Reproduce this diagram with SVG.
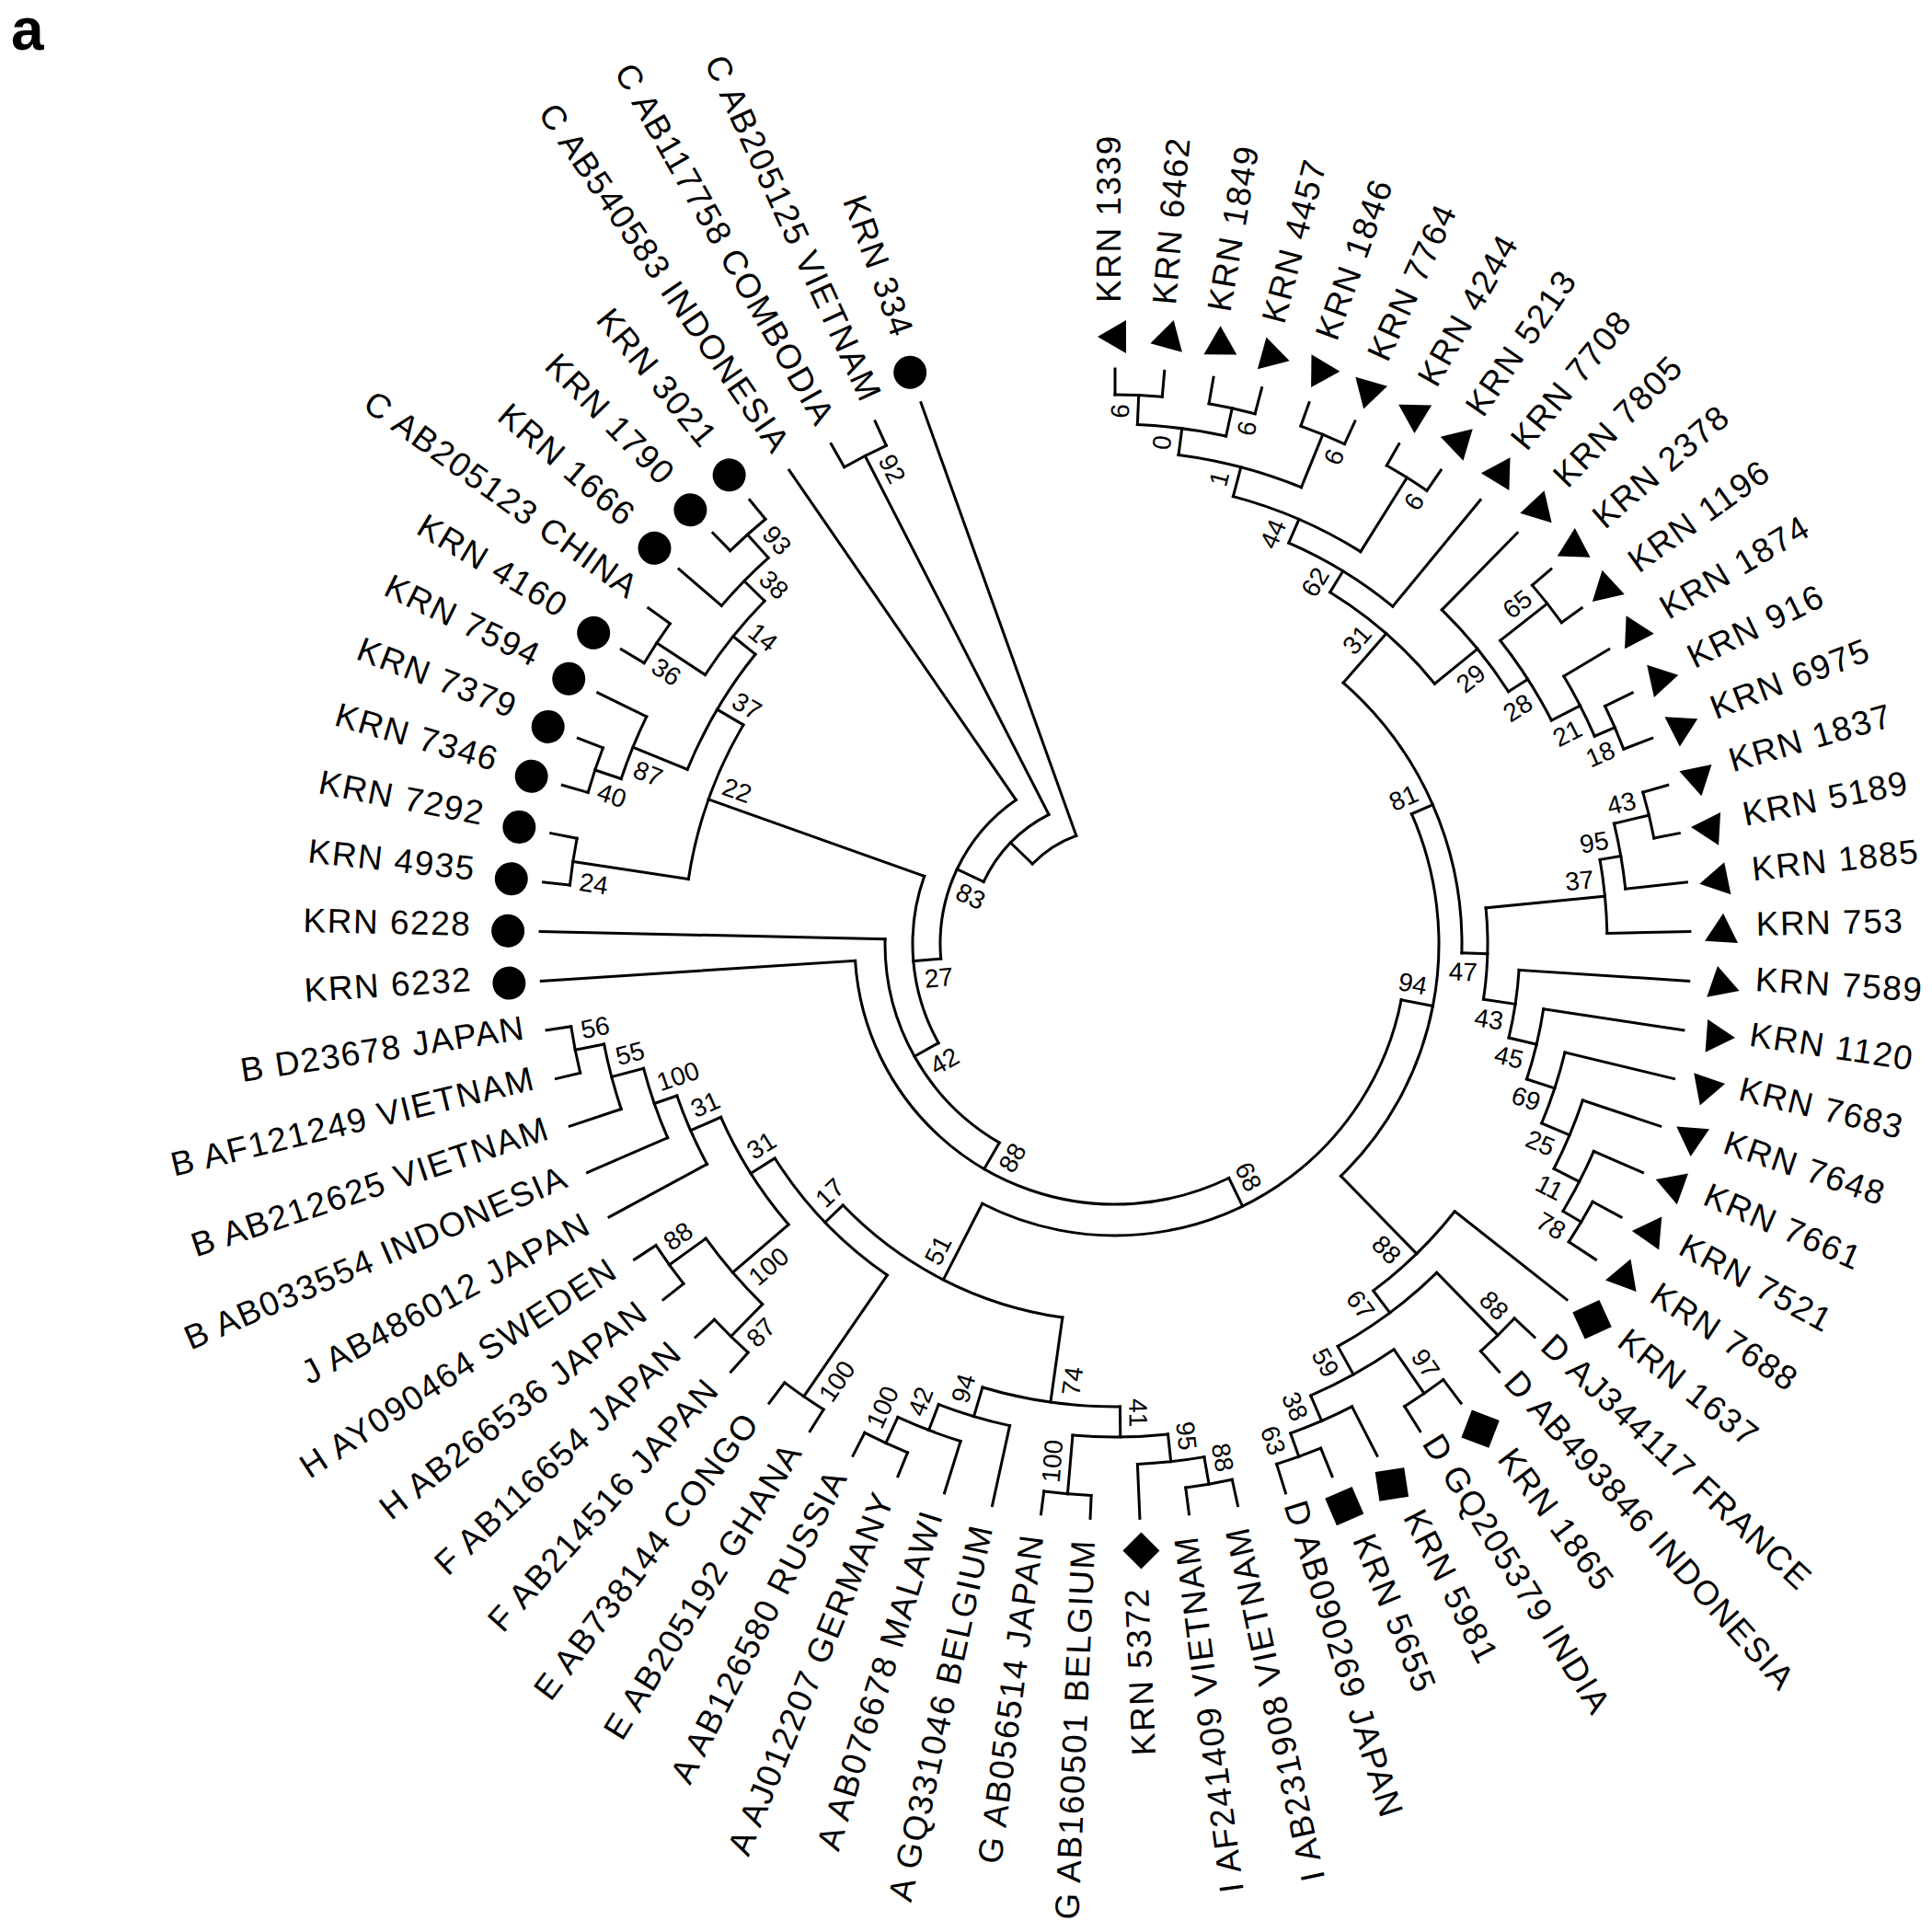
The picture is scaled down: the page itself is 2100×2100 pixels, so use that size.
<svg xmlns="http://www.w3.org/2000/svg" xmlns:xlink="http://www.w3.org/1999/xlink" width="2100" height="2100" viewBox="0 0 2100 2100">
<style>
.ln{fill:none;stroke:#000;stroke-width:3;stroke-linecap:square}
.lf{font-family:"Liberation Sans",Arial,sans-serif;font-size:37px;letter-spacing:1.5px;fill:#000}
.lt{text-anchor:end}
.bs{font-family:"Liberation Sans",Arial,sans-serif;font-size:28px;fill:#000;text-anchor:middle}
</style>
<defs>
<path id="tri" d="M0,-19 L18,12 L-18,12 Z"/>
<rect id="sq" x="-16" y="-16" width="32" height="32"/>
<circle id="dot" r="18"/>
<path id="dia" d="M0,-20 L20,0 L0,20 L-20,0 Z"/>
</defs>
<rect width="2100" height="2100" fill="#fff"/>
<text x="12" y="54" font-family="Liberation Sans,Arial,sans-serif" font-weight="bold" font-size="64">a</text>
<g transform="translate(1212,1026)">
<g id="connectors" class="ln">
<circle r="597" pathLength="360" stroke-dasharray="4.93 720" transform="rotate(-90)"/>
<circle r="596" pathLength="360" stroke-dasharray="4.93 720" transform="rotate(-80.14)"/>
<circle r="565" pathLength="360" stroke-dasharray="9.86 720" transform="rotate(-87.53)"/>
<circle r="598" pathLength="360" stroke-dasharray="4.93 720" transform="rotate(-70.27)"/>
<circle r="536" pathLength="360" stroke-dasharray="14.79 720" transform="rotate(-82.60)"/>
<circle r="598" pathLength="360" stroke-dasharray="4.93 720" transform="rotate(-60.41)"/>
<circle r="503" pathLength="360" stroke-dasharray="17.26 720" transform="rotate(-75.21)"/>
<circle r="475" pathLength="360" stroke-dasharray="16.03 720" transform="rotate(-66.58)"/>
<circle r="598" pathLength="360" stroke-dasharray="4.94 720" transform="rotate(-40.69)"/>
<circle r="592" pathLength="360" stroke-dasharray="4.93 720" transform="rotate(-25.89)"/>
<circle r="568" pathLength="360" stroke-dasharray="7.40 720" transform="rotate(-30.82)"/>
<circle r="533" pathLength="360" stroke-dasharray="11.10 720" transform="rotate(-38.22)"/>
<circle r="508" pathLength="360" stroke-dasharray="12.95 720" transform="rotate(-45.62)"/>
<circle r="448" pathLength="360" stroke-dasharray="19.42 720" transform="rotate(-58.56)"/>
<circle r="597" pathLength="360" stroke-dasharray="4.93 720" transform="rotate(-16.03)"/>
<circle r="558" pathLength="360" stroke-dasharray="7.40 720" transform="rotate(-13.56)"/>
<circle r="535" pathLength="360" stroke-dasharray="8.63 720" transform="rotate(-9.86)"/>
<circle r="590" pathLength="360" stroke-dasharray="4.93 720" transform="rotate(28.36)"/>
<circle r="567" pathLength="360" stroke-dasharray="7.40 720" transform="rotate(23.42)"/>
<circle r="536" pathLength="360" stroke-dasharray="8.63 720" transform="rotate(18.49)"/>
<circle r="503" pathLength="360" stroke-dasharray="9.25 720" transform="rotate(13.56)"/>
<circle r="471" pathLength="360" stroke-dasharray="9.55 720" transform="rotate(8.63)"/>
<circle r="440" pathLength="360" stroke-dasharray="9.71 720" transform="rotate(3.70)"/>
<circle r="405" pathLength="360" stroke-dasharray="14.10 720" transform="rotate(-5.55)"/>
<circle r="377" pathLength="360" stroke-dasharray="50.35 720" transform="rotate(-48.85)"/>
<circle r="595" pathLength="360" stroke-dasharray="4.93 720" transform="rotate(43.15)"/>
<circle r="593" pathLength="360" stroke-dasharray="4.94 720" transform="rotate(53.01)"/>
<circle r="592" pathLength="360" stroke-dasharray="4.93 720" transform="rotate(67.81)"/>
<circle r="565" pathLength="360" stroke-dasharray="7.39 720" transform="rotate(62.88)"/>
<circle r="535" pathLength="360" stroke-dasharray="11.10 720" transform="rotate(55.48)"/>
<circle r="500" pathLength="360" stroke-dasharray="15.41 720" transform="rotate(45.62)"/>
<circle r="470" pathLength="360" stroke-dasharray="15.10 720" transform="rotate(38.22)"/>
<circle r="352" pathLength="360" stroke-dasharray="69.44 720" transform="rotate(-23.67)"/>
<circle r="596" pathLength="360" stroke-dasharray="4.93 720" transform="rotate(77.67)"/>
<circle r="566" pathLength="360" stroke-dasharray="7.39 720" transform="rotate(80.14)"/>
<circle r="600" pathLength="360" stroke-dasharray="4.93 720" transform="rotate(92.47)"/>
<circle r="536" pathLength="360" stroke-dasharray="11.09 720" transform="rotate(83.84)"/>
<circle r="597" pathLength="360" stroke-dasharray="4.93 720" transform="rotate(112.19)"/>
<circle r="566" pathLength="360" stroke-dasharray="7.40 720" transform="rotate(107.26)"/>
<circle r="536" pathLength="360" stroke-dasharray="8.63 720" transform="rotate(102.33)"/>
<circle r="503" pathLength="360" stroke-dasharray="17.26 720" transform="rotate(89.38)"/>
<circle r="597" pathLength="360" stroke-dasharray="4.94 720" transform="rotate(122.05)"/>
<circle r="597" pathLength="360" stroke-dasharray="4.93 720" transform="rotate(131.92)"/>
<circle r="597" pathLength="360" stroke-dasharray="4.93 720" transform="rotate(141.78)"/>
<circle r="548" pathLength="360" stroke-dasharray="9.87 720" transform="rotate(134.38)"/>
<circle r="598" pathLength="360" stroke-dasharray="4.93 720" transform="rotate(166.44)"/>
<circle r="566" pathLength="360" stroke-dasharray="7.39 720" transform="rotate(161.51)"/>
<circle r="530" pathLength="360" stroke-dasharray="8.63 720" transform="rotate(156.58)"/>
<circle r="504" pathLength="360" stroke-dasharray="9.25 720" transform="rotate(151.64)"/>
<circle r="468" pathLength="360" stroke-dasharray="16.95 720" transform="rotate(139.32)"/>
<circle r="437" pathLength="360" stroke-dasharray="23.27 720" transform="rotate(124.52)"/>
<circle r="410" pathLength="360" stroke-dasharray="38.15 720" transform="rotate(98.01)"/>
<circle r="317" pathLength="360" stroke-dasharray="106.03 720" transform="rotate(11.05)"/>
<circle r="283" pathLength="360" stroke-dasharray="112.23 720" transform="rotate(64.07)"/>
<circle r="250" pathLength="360" stroke-dasharray="61.05 720" transform="rotate(120.18)"/>
<circle r="596" pathLength="360" stroke-dasharray="4.94 720" transform="rotate(186.16)"/>
<circle r="596" pathLength="360" stroke-dasharray="4.93 720" transform="rotate(196.03)"/>
<circle r="566" pathLength="360" stroke-dasharray="7.40 720" transform="rotate(198.49)"/>
<circle r="596" pathLength="360" stroke-dasharray="4.93 720" transform="rotate(210.82)"/>
<circle r="598" pathLength="360" stroke-dasharray="4.93 720" transform="rotate(225.62)"/>
<circle r="564" pathLength="360" stroke-dasharray="7.40 720" transform="rotate(220.68)"/>
<circle r="533" pathLength="360" stroke-dasharray="11.09 720" transform="rotate(213.29)"/>
<circle r="502" pathLength="360" stroke-dasharray="16.65 720" transform="rotate(202.19)"/>
<circle r="469" pathLength="360" stroke-dasharray="21.88 720" transform="rotate(188.63)"/>
<circle r="220" pathLength="360" stroke-dasharray="48.86 720" transform="rotate(150.71)"/>
<circle r="190" pathLength="360" stroke-dasharray="60.34 720" transform="rotate(175.14)"/>
<circle r="596" pathLength="360" stroke-dasharray="4.93 720" transform="rotate(240.41)"/>
<circle r="158" pathLength="360" stroke-dasharray="37.57 720" transform="rotate(205.31)"/>
<circle r="125" pathLength="360" stroke-dasharray="26.18 720" transform="rotate(224.09)"/>
<path d="M565 0H597" transform="rotate(-87.53)"/>
<path d="M565 0H596" transform="rotate(-77.67)"/>
<path d="M536 0H565" transform="rotate(-82.60)"/>
<path d="M536 0H598" transform="rotate(-67.81)"/>
<path d="M503 0H536" transform="rotate(-75.21)"/>
<path d="M503 0H598" transform="rotate(-57.95)"/>
<path d="M475 0H503" transform="rotate(-66.58)"/>
<path d="M448 0H475" transform="rotate(-58.56)"/>
<path d="M533 0H598" transform="rotate(-38.22)"/>
<path d="M568 0H592" transform="rotate(-23.42)"/>
<path d="M533 0H568" transform="rotate(-27.12)"/>
<path d="M508 0H533" transform="rotate(-32.67)"/>
<path d="M448 0H508" transform="rotate(-39.14)"/>
<path d="M377 0H448" transform="rotate(-48.85)"/>
<path d="M558 0H597" transform="rotate(-13.56)"/>
<path d="M535 0H558" transform="rotate(-9.86)"/>
<path d="M405 0H535" transform="rotate(-5.55)"/>
<path d="M567 0H590" transform="rotate(30.82)"/>
<path d="M536 0H567" transform="rotate(27.12)"/>
<path d="M503 0H536" transform="rotate(22.81)"/>
<path d="M471 0H503" transform="rotate(18.18)"/>
<path d="M440 0H471" transform="rotate(13.41)"/>
<path d="M405 0H440" transform="rotate(8.55)"/>
<path d="M377 0H405" transform="rotate(1.50)"/>
<path d="M352 0H377" transform="rotate(-23.67)"/>
<path d="M500 0H595" transform="rotate(45.62)"/>
<path d="M535 0H593" transform="rotate(55.48)"/>
<path d="M565 0H592" transform="rotate(70.27)"/>
<path d="M535 0H565" transform="rotate(66.58)"/>
<path d="M500 0H535" transform="rotate(61.03)"/>
<path d="M470 0H500" transform="rotate(53.32)"/>
<path d="M352 0H470" transform="rotate(45.77)"/>
<path d="M317 0H352" transform="rotate(11.05)"/>
<path d="M566 0H596" transform="rotate(80.14)"/>
<path d="M536 0H566" transform="rotate(83.84)"/>
<path d="M536 0H600" transform="rotate(94.93)"/>
<path d="M503 0H536" transform="rotate(89.38)"/>
<path d="M566 0H597" transform="rotate(114.66)"/>
<path d="M536 0H566" transform="rotate(110.96)"/>
<path d="M503 0H536" transform="rotate(106.64)"/>
<path d="M410 0H503" transform="rotate(98.01)"/>
<path d="M437 0H597" transform="rotate(124.52)"/>
<path d="M548 0H597" transform="rotate(134.38)"/>
<path d="M548 0H597" transform="rotate(144.25)"/>
<path d="M468 0H548" transform="rotate(139.32)"/>
<path d="M566 0H598" transform="rotate(168.90)"/>
<path d="M530 0H566" transform="rotate(165.21)"/>
<path d="M504 0H530" transform="rotate(160.89)"/>
<path d="M468 0H504" transform="rotate(156.27)"/>
<path d="M437 0H468" transform="rotate(147.79)"/>
<path d="M410 0H437" transform="rotate(136.16)"/>
<path d="M317 0H410" transform="rotate(117.08)"/>
<path d="M283 0H317" transform="rotate(64.07)"/>
<path d="M250 0H283" transform="rotate(120.18)"/>
<path d="M220 0H250" transform="rotate(150.71)"/>
<path d="M469 0H596" transform="rotate(188.63)"/>
<path d="M566 0H596" transform="rotate(198.49)"/>
<path d="M502 0H566" transform="rotate(202.19)"/>
<path d="M533 0H596" transform="rotate(213.29)"/>
<path d="M564 0H598" transform="rotate(228.08)"/>
<path d="M533 0H564" transform="rotate(224.38)"/>
<path d="M502 0H533" transform="rotate(218.84)"/>
<path d="M469 0H502" transform="rotate(210.51)"/>
<path d="M220 0H469" transform="rotate(199.57)"/>
<path d="M190 0H220" transform="rotate(175.14)"/>
<path d="M158 0H190" transform="rotate(205.31)"/>
<path d="M158 0H596" transform="rotate(242.88)"/>
<path d="M125 0H158" transform="rotate(224.09)"/>
<path d="M597 0H625" transform="rotate(-90)"/>
<path d="M597 0H625" transform="rotate(-85.07)"/>
<path d="M596 0H625" transform="rotate(-80.14)"/>
<path d="M596 0H625" transform="rotate(-75.21)"/>
<path d="M598 0H625" transform="rotate(-70.27)"/>
<path d="M598 0H625" transform="rotate(-65.34)"/>
<path d="M598 0H625" transform="rotate(-60.41)"/>
<path d="M598 0H625" transform="rotate(-55.48)"/>
<path d="M475 0H625" transform="rotate(-50.55)"/>
<path d="M508 0H625" transform="rotate(-45.62)"/>
<path d="M598 0H625" transform="rotate(-40.69)"/>
<path d="M598 0H625" transform="rotate(-35.75)"/>
<path d="M568 0H625" transform="rotate(-30.82)"/>
<path d="M592 0H625" transform="rotate(-25.89)"/>
<path d="M592 0H625" transform="rotate(-20.96)"/>
<path d="M597 0H625" transform="rotate(-16.03)"/>
<path d="M597 0H625" transform="rotate(-11.10)"/>
<path d="M558 0H625" transform="rotate(-6.16)"/>
<path d="M535 0H625" transform="rotate(-1.23)"/>
<path d="M440 0H625" transform="rotate(3.70)"/>
<path d="M471 0H625" transform="rotate(8.63)"/>
<path d="M503 0H625" transform="rotate(13.56)"/>
<path d="M536 0H625" transform="rotate(18.49)"/>
<path d="M567 0H625" transform="rotate(23.42)"/>
<path d="M590 0H625" transform="rotate(28.36)"/>
<path d="M590 0H625" transform="rotate(33.29)"/>
<path d="M470 0H625" transform="rotate(38.22)"/>
<path d="M595 0H625" transform="rotate(43.15)"/>
<path d="M595 0H625" transform="rotate(48.08)"/>
<path d="M593 0H625" transform="rotate(53.01)"/>
<path d="M593 0H625" transform="rotate(57.95)"/>
<path d="M565 0H625" transform="rotate(62.88)"/>
<path d="M592 0H625" transform="rotate(67.81)"/>
<path d="M592 0H625" transform="rotate(72.74)"/>
<path d="M596 0H625" transform="rotate(77.67)"/>
<path d="M596 0H625" transform="rotate(82.60)"/>
<path d="M566 0H625" transform="rotate(87.53)"/>
<path d="M600 0H625" transform="rotate(92.47)"/>
<path d="M600 0H625" transform="rotate(97.40)"/>
<path d="M536 0H625" transform="rotate(102.33)"/>
<path d="M566 0H625" transform="rotate(107.26)"/>
<path d="M597 0H625" transform="rotate(112.19)"/>
<path d="M597 0H625" transform="rotate(117.12)"/>
<path d="M597 0H625" transform="rotate(122.05)"/>
<path d="M597 0H625" transform="rotate(126.99)"/>
<path d="M597 0H625" transform="rotate(131.92)"/>
<path d="M597 0H625" transform="rotate(136.85)"/>
<path d="M597 0H625" transform="rotate(141.78)"/>
<path d="M597 0H625" transform="rotate(146.71)"/>
<path d="M504 0H625" transform="rotate(151.64)"/>
<path d="M530 0H625" transform="rotate(156.58)"/>
<path d="M566 0H625" transform="rotate(161.51)"/>
<path d="M598 0H625" transform="rotate(166.44)"/>
<path d="M598 0H625" transform="rotate(171.37)"/>
<path d="M283 0H625" transform="rotate(176.30)"/>
<path d="M250 0H625" transform="rotate(181.23)"/>
<path d="M596 0H625" transform="rotate(186.16)"/>
<path d="M596 0H625" transform="rotate(191.10)"/>
<path d="M596 0H625" transform="rotate(196.03)"/>
<path d="M596 0H625" transform="rotate(200.96)"/>
<path d="M566 0H625" transform="rotate(205.89)"/>
<path d="M596 0H625" transform="rotate(210.82)"/>
<path d="M596 0H625" transform="rotate(215.75)"/>
<path d="M564 0H625" transform="rotate(220.68)"/>
<path d="M598 0H625" transform="rotate(225.62)"/>
<path d="M598 0H625" transform="rotate(230.55)"/>
<path d="M190 0H625" transform="rotate(235.48)"/>
<path d="M596 0H625" transform="rotate(240.41)"/>
<path d="M596 0H625" transform="rotate(245.34)"/>
<path d="M125 0H625" transform="rotate(250.27)"/>
</g>
<g id="leaves">
<g id="leaf-00" transform="rotate(-90)"><use href="#tri" transform="translate(660 0) rotate(360)"/><text class="lf" x="697" y="6">KRN 1339</text></g>
<g id="leaf-01" transform="rotate(-85.07)"><use href="#tri" transform="translate(660 0) rotate(340.28)"/><text class="lf" x="697" y="6">KRN 6462</text></g>
<g id="leaf-02" transform="rotate(-80.14)"><use href="#tri" transform="translate(660 0) rotate(320.56)"/><text class="lf" x="697" y="6">KRN 1849</text></g>
<g id="leaf-03" transform="rotate(-75.21)"><use href="#tri" transform="translate(660 0) rotate(300.84)"/><text class="lf" x="697" y="6">KRN 4457</text></g>
<g id="leaf-04" transform="rotate(-70.27)"><use href="#tri" transform="translate(660 0) rotate(281.08)"/><text class="lf" x="697" y="6">KRN 1846</text></g>
<g id="leaf-05" transform="rotate(-65.34)"><use href="#tri" transform="translate(660 0) rotate(261.36)"/><text class="lf" x="697" y="6">KRN 7764</text></g>
<g id="leaf-06" transform="rotate(-60.41)"><use href="#tri" transform="translate(660 0) rotate(241.64)"/><text class="lf" x="697" y="6">KRN 4244</text></g>
<g id="leaf-07" transform="rotate(-55.48)"><use href="#tri" transform="translate(660 0) rotate(221.92)"/><text class="lf" x="697" y="6">KRN 5213</text></g>
<g id="leaf-08" transform="rotate(-50.55)"><use href="#tri" transform="translate(660 0) rotate(202.2)"/><text class="lf" x="697" y="6">KRN 7708</text></g>
<g id="leaf-09" transform="rotate(-45.62)"><use href="#tri" transform="translate(660 0) rotate(182.48)"/><text class="lf" x="697" y="6">KRN 7805</text></g>
<g id="leaf-10" transform="rotate(-40.69)"><use href="#tri" transform="translate(660 0) rotate(162.76)"/><text class="lf" x="697" y="6">KRN 2378</text></g>
<g id="leaf-11" transform="rotate(-35.75)"><use href="#tri" transform="translate(660 0) rotate(143)"/><text class="lf" x="697" y="6">KRN 1196</text></g>
<g id="leaf-12" transform="rotate(-30.82)"><use href="#tri" transform="translate(660 0) rotate(123.28)"/><text class="lf" x="697" y="6">KRN 1874</text></g>
<g id="leaf-13" transform="rotate(-25.89)"><use href="#tri" transform="translate(660 0) rotate(103.56)"/><text class="lf" x="697" y="6">KRN 916</text></g>
<g id="leaf-14" transform="rotate(-20.96)"><use href="#tri" transform="translate(660 0) rotate(83.84)"/><text class="lf" x="697" y="6">KRN 6975</text></g>
<g id="leaf-15" transform="rotate(-16.03)"><use href="#tri" transform="translate(660 0) rotate(64.12)"/><text class="lf" x="697" y="6">KRN 1837</text></g>
<g id="leaf-16" transform="rotate(-11.10)"><use href="#tri" transform="translate(660 0) rotate(44.4)"/><text class="lf" x="697" y="6">KRN 5189</text></g>
<g id="leaf-17" transform="rotate(-6.16)"><use href="#tri" transform="translate(660 0) rotate(24.64)"/><text class="lf" x="697" y="6">KRN 1885</text></g>
<g id="leaf-18" transform="rotate(-1.23)"><use href="#tri" transform="translate(660 0) rotate(4.92)"/><text class="lf" x="697" y="6">KRN 753</text></g>
<g id="leaf-19" transform="rotate(3.70)"><use href="#tri" transform="translate(660 0) rotate(-14.8)"/><text class="lf" x="697" y="6">KRN 7589</text></g>
<g id="leaf-20" transform="rotate(8.63)"><use href="#tri" transform="translate(660 0) rotate(-34.52)"/><text class="lf" x="697" y="6">KRN 1120</text></g>
<g id="leaf-21" transform="rotate(13.56)"><use href="#tri" transform="translate(660 0) rotate(-54.24)"/><text class="lf" x="697" y="6">KRN 7683</text></g>
<g id="leaf-22" transform="rotate(18.49)"><use href="#tri" transform="translate(660 0) rotate(-73.96)"/><text class="lf" x="697" y="6">KRN 7648</text></g>
<g id="leaf-23" transform="rotate(23.42)"><use href="#tri" transform="translate(660 0) rotate(-93.68)"/><text class="lf" x="697" y="6">KRN 7661</text></g>
<g id="leaf-24" transform="rotate(28.36)"><use href="#tri" transform="translate(660 0) rotate(-113.44)"/><text class="lf" x="697" y="6">KRN 7521</text></g>
<g id="leaf-25" transform="rotate(33.29)"><use href="#tri" transform="translate(660 0) rotate(-133.16)"/><text class="lf" x="697" y="6">KRN 7688</text></g>
<g id="leaf-26" transform="rotate(38.22)"><use href="#sq" transform="translate(660 0) rotate(-152.88)"/><text class="lf" x="697" y="6">KRN 1637</text></g>
<g id="leaf-27" transform="rotate(43.15)"><text class="lf" x="637" y="6">D AJ344117 FRANCE</text></g>
<g id="leaf-28" transform="rotate(48.08)"><text class="lf" x="637" y="6">D AB493846 INDONESIA</text></g>
<g id="leaf-29" transform="rotate(53.01)"><use href="#sq" transform="translate(660 0) rotate(-212.04)"/><text class="lf" x="697" y="6">KRN 1865</text></g>
<g id="leaf-30" transform="rotate(57.95)"><text class="lf" x="637" y="6">D GQ205379 INDIA</text></g>
<g id="leaf-31" transform="rotate(62.88)"><use href="#sq" transform="translate(660 0) rotate(-251.52)"/><text class="lf" x="697" y="6">KRN 5981</text></g>
<g id="leaf-32" transform="rotate(67.81)"><use href="#sq" transform="translate(660 0) rotate(-271.24)"/><text class="lf" x="697" y="6">KRN 5655</text></g>
<g id="leaf-33" transform="rotate(72.74)"><text class="lf" x="637" y="6">D AB090269 JAPAN</text></g>
<g id="leaf-34" transform="rotate(77.67)"><text class="lf lt" x="648" y="6" transform="rotate(180 648 0)">I AB231908 VIETNAM</text></g>
<g id="leaf-35" transform="rotate(82.60)"><text class="lf lt" x="648" y="6" transform="rotate(180 648 0)">I AF241409 VIETNAM</text></g>
<g id="leaf-36" transform="rotate(87.53)"><use href="#dia" transform="translate(660 0) rotate(-87.53)"/><text class="lf lt" x="700" y="6" transform="rotate(180 700 0)">KRN 5372</text></g>
<g id="leaf-37" transform="rotate(92.47)"><text class="lf lt" x="648" y="6" transform="rotate(180 648 0)">G AB160501 BELGIUM</text></g>
<g id="leaf-38" transform="rotate(97.40)"><text class="lf lt" x="648" y="6" transform="rotate(180 648 0)">G AB056514 JAPAN</text></g>
<g id="leaf-39" transform="rotate(102.33)"><text class="lf lt" x="648" y="6" transform="rotate(180 648 0)">A GQ331046 BELGIUM</text></g>
<g id="leaf-40" transform="rotate(107.26)"><text class="lf lt" x="648" y="6" transform="rotate(180 648 0)">A AB076678 MALAWI</text></g>
<g id="leaf-41" transform="rotate(112.19)"><text class="lf lt" x="648" y="6" transform="rotate(180 648 0)">A AJ012207 GERMANY</text></g>
<g id="leaf-42" transform="rotate(117.12)"><text class="lf lt" x="648" y="6" transform="rotate(180 648 0)">A AB126580 RUSSIA</text></g>
<g id="leaf-43" transform="rotate(122.05)"><text class="lf lt" x="648" y="6" transform="rotate(180 648 0)">E AB205192 GHANA</text></g>
<g id="leaf-44" transform="rotate(126.99)"><text class="lf lt" x="648" y="6" transform="rotate(180 648 0)">E AB738144 CONGO</text></g>
<g id="leaf-45" transform="rotate(131.92)"><text class="lf lt" x="648" y="6" transform="rotate(180 648 0)">F AB214516 JAPAN</text></g>
<g id="leaf-46" transform="rotate(136.85)"><text class="lf lt" x="648" y="6" transform="rotate(180 648 0)">F AB116654 JAPAN</text></g>
<g id="leaf-47" transform="rotate(141.78)"><text class="lf lt" x="648" y="6" transform="rotate(180 648 0)">H AB266536 JAPAN</text></g>
<g id="leaf-48" transform="rotate(146.71)"><text class="lf lt" x="648" y="6" transform="rotate(180 648 0)">H AY090464 SWEDEN</text></g>
<g id="leaf-49" transform="rotate(151.64)"><text class="lf lt" x="648" y="6" transform="rotate(180 648 0)">J AB486012 JAPAN</text></g>
<g id="leaf-50" transform="rotate(156.58)"><text class="lf lt" x="648" y="6" transform="rotate(180 648 0)">B AB033554 INDONESIA</text></g>
<g id="leaf-51" transform="rotate(161.51)"><text class="lf lt" x="648" y="6" transform="rotate(180 648 0)">B AB212625 VIETNAM</text></g>
<g id="leaf-52" transform="rotate(166.44)"><text class="lf lt" x="648" y="6" transform="rotate(180 648 0)">B AF121249 VIETNAM</text></g>
<g id="leaf-53" transform="rotate(171.37)"><text class="lf lt" x="648" y="6" transform="rotate(180 648 0)">B D23678 JAPAN</text></g>
<g id="leaf-54" transform="rotate(176.30)"><use href="#dot" x="660"/><text class="lf lt" x="700" y="6" transform="rotate(180 700 0)">KRN 6232</text></g>
<g id="leaf-55" transform="rotate(181.23)"><use href="#dot" x="660"/><text class="lf lt" x="700" y="6" transform="rotate(180 700 0)">KRN 6228</text></g>
<g id="leaf-56" transform="rotate(186.16)"><use href="#dot" x="660"/><text class="lf lt" x="700" y="6" transform="rotate(180 700 0)">KRN 4935</text></g>
<g id="leaf-57" transform="rotate(191.10)"><use href="#dot" x="660"/><text class="lf lt" x="700" y="6" transform="rotate(180 700 0)">KRN 7292</text></g>
<g id="leaf-58" transform="rotate(196.03)"><use href="#dot" x="660"/><text class="lf lt" x="700" y="6" transform="rotate(180 700 0)">KRN 7346</text></g>
<g id="leaf-59" transform="rotate(200.96)"><use href="#dot" x="660"/><text class="lf lt" x="700" y="6" transform="rotate(180 700 0)">KRN 7379</text></g>
<g id="leaf-60" transform="rotate(205.89)"><use href="#dot" x="660"/><text class="lf lt" x="700" y="6" transform="rotate(180 700 0)">KRN 7594</text></g>
<g id="leaf-61" transform="rotate(210.82)"><use href="#dot" x="660"/><text class="lf lt" x="700" y="6" transform="rotate(180 700 0)">KRN 4160</text></g>
<g id="leaf-62" transform="rotate(215.75)"><text class="lf lt" x="648" y="6" transform="rotate(180 648 0)">C AB205123 CHINA</text></g>
<g id="leaf-63" transform="rotate(220.68)"><use href="#dot" x="660"/><text class="lf lt" x="700" y="6" transform="rotate(180 700 0)">KRN 1666</text></g>
<g id="leaf-64" transform="rotate(225.62)"><use href="#dot" x="660"/><text class="lf lt" x="700" y="6" transform="rotate(180 700 0)">KRN 1790</text></g>
<g id="leaf-65" transform="rotate(230.55)"><use href="#dot" x="660"/><text class="lf lt" x="700" y="6" transform="rotate(180 700 0)">KRN 3021</text></g>
<g id="leaf-66" transform="rotate(235.48)"><text class="lf lt" x="648" y="6" transform="rotate(180 648 0)">C AB540583 INDONESIA</text></g>
<g id="leaf-67" transform="rotate(240.41)"><text class="lf lt" x="648" y="6" transform="rotate(180 648 0)">C AB117758 COMBODIA</text></g>
<g id="leaf-68" transform="rotate(245.34)"><text class="lf lt" x="648" y="6" transform="rotate(180 648 0)">C AB205125 VIETNAM</text></g>
<g id="leaf-69" transform="rotate(250.27)"><use href="#dot" x="660"/><text class="lf lt" x="700" y="6" transform="rotate(180 700 0)">KRN 334</text></g>
</g>
<g id="internal-nodes">
<g id="n6-01" transform="rotate(-87.53)"><text class="bs" x="579" y="-10">6</text></g>
<g id="n6-23" transform="rotate(-77.67)"><text class="bs" x="578" y="30">6</text></g>
<g id="n0" transform="rotate(-82.60)"><text class="bs" x="547" y="-10">0</text></g>
<g id="n6-45" transform="rotate(-67.81)"><text class="bs" x="580" y="30">6</text></g>
<g id="n1" transform="rotate(-75.21)"><text class="bs" x="518" y="-10">1</text></g>
<g id="n6-67" transform="rotate(-57.95)"><text class="bs" x="580" y="30">6</text></g>
<g id="n44" transform="rotate(-66.58)"><text class="bs" x="477" y="-10">44</text></g>
<g id="n62" transform="rotate(-58.56)"><text class="bs" x="449" y="-10">62</text></g>
<g id="n65" transform="rotate(-38.22)"><text class="bs" x="572" y="-10">65</text></g>
<g id="n18" transform="rotate(-23.42)"><text class="bs" x="566" y="30">18</text></g>
<g id="n21" transform="rotate(-27.12)"><text class="bs" x="542" y="30">21</text></g>
<g id="n28" transform="rotate(-32.67)"><text class="bs" x="507" y="30">28</text></g>
<g id="n29" transform="rotate(-39.14)"><text class="bs" x="482" y="30">29</text></g>
<g id="n31a" transform="rotate(-48.85)"><text class="bs" x="422" y="-10">31</text></g>
<g id="n43a" transform="rotate(-13.56)"><text class="bs" x="571" y="-10">43</text></g>
<g id="n95a" transform="rotate(-9.86)"><text class="bs" x="532" y="-10">95</text></g>
<g id="n37a" transform="rotate(-5.55)"><text class="bs" x="509" y="-10">37</text></g>
<g id="n78" transform="rotate(30.82)"><text class="bs" x="564" y="30">78</text></g>
<g id="n11" transform="rotate(27.12)"><text class="bs" x="541" y="30">11</text></g>
<g id="n25" transform="rotate(22.81)"><text class="bs" x="510" y="30">25</text></g>
<g id="n69" transform="rotate(18.18)"><text class="bs" x="477" y="30">69</text></g>
<g id="n45" transform="rotate(13.41)"><text class="bs" x="445" y="30">45</text></g>
<g id="n43b" transform="rotate(8.55)"><text class="bs" x="414" y="30">43</text></g>
<g id="n47" transform="rotate(1.50)"><text class="bs" x="379" y="30">47</text></g>
<g id="n81" transform="rotate(-23.67)"><text class="bs" x="351" y="-10">81</text></g>
<g id="n88d" transform="rotate(45.62)"><text class="bs" x="569" y="-10">88</text></g>
<g id="n97" transform="rotate(55.48)"><text class="bs" x="567" y="-10">97</text></g>
<g id="n63" transform="rotate(70.27)"><text class="bs" x="566" y="30">63</text></g>
<g id="n38d" transform="rotate(66.58)"><text class="bs" x="539" y="30">38</text></g>
<g id="n59" transform="rotate(61.03)"><text class="bs" x="509" y="30">59</text></g>
<g id="n67" transform="rotate(53.32)"><text class="bs" x="474" y="30">67</text></g>
<g id="n88b" transform="rotate(45.77)"><text class="bs" x="444" y="30">88</text></g>
<g id="n94a" transform="rotate(11.05)"><text class="bs" x="326" y="-10">94</text></g>
<g id="n88c" transform="rotate(80.14)"><text class="bs" x="570" y="-10">88</text></g>
<g id="n95g" transform="rotate(83.84)"><text class="bs" x="540" y="-10">95</text></g>
<g id="n41" transform="rotate(89.38)"><text class="bs" x="510" y="-10">41</text></g>
<g id="n68" transform="rotate(64.07)"><text class="bs" x="291" y="-10">68</text></g>
<g id="n100g" transform="rotate(94.93)"><text class="bs" x="566" y="30" transform="rotate(180 566 20)">100</text></g>
<g id="n100a" transform="rotate(114.66)"><text class="bs" x="563" y="30" transform="rotate(180 563 20)">100</text></g>
<g id="n42a" transform="rotate(110.96)"><text class="bs" x="540" y="30" transform="rotate(180 540 20)">42</text></g>
<g id="n94b" transform="rotate(106.64)"><text class="bs" x="510" y="30" transform="rotate(180 510 20)">94</text></g>
<g id="n74" transform="rotate(98.01)"><text class="bs" x="477" y="-10" transform="rotate(180 477 -20)">74</text></g>
<g id="n100e" transform="rotate(124.52)"><text class="bs" x="563" y="-10" transform="rotate(180 563 -20)">100</text></g>
<g id="n87f" transform="rotate(134.38)"><text class="bs" x="571" y="-10" transform="rotate(180 571 -20)">87</text></g>
<g id="n88h" transform="rotate(144.25)"><text class="bs" x="571" y="30" transform="rotate(180 571 20)">88</text></g>
<g id="n100fh" transform="rotate(139.32)"><text class="bs" x="514" y="-10" transform="rotate(180 514 -20)">100</text></g>
<g id="n56" transform="rotate(168.90)"><text class="bs" x="572" y="30" transform="rotate(180 572 20)">56</text></g>
<g id="n55" transform="rotate(165.21)"><text class="bs" x="540" y="30" transform="rotate(180 540 20)">55</text></g>
<g id="n100b" transform="rotate(160.89)"><text class="bs" x="496" y="30" transform="rotate(180 496 20)">100</text></g>
<g id="n31b" transform="rotate(156.27)"><text class="bs" x="478" y="30" transform="rotate(180 478 20)">31</text></g>
<g id="n31y" transform="rotate(147.79)"><text class="bs" x="442" y="30" transform="rotate(180 442 20)">31</text></g>
<g id="n17" transform="rotate(136.16)"><text class="bs" x="411" y="30" transform="rotate(180 411 20)">17</text></g>
<g id="n51" transform="rotate(117.08)"><text class="bs" x="384" y="30" transform="rotate(180 384 20)">51</text></g>
<g id="n88p" transform="rotate(120.18)"><text class="bs" x="257" y="-10" transform="rotate(180 257 -20)">88</text></g>
<g id="n42s" transform="rotate(150.71)"><text class="bs" x="224" y="-10" transform="rotate(180 224 -20)">42</text></g>
<g id="n24" transform="rotate(188.63)"><text class="bs" x="570" y="-10" transform="rotate(180 570 -20)">24</text></g>
<g id="n40" transform="rotate(198.49)"><text class="bs" x="570" y="-10" transform="rotate(180 570 -20)">40</text></g>
<g id="n87" transform="rotate(202.19)"><text class="bs" x="540" y="-10" transform="rotate(180 540 -20)">87</text></g>
<g id="n36" transform="rotate(213.29)"><text class="bs" x="570" y="-10" transform="rotate(180 570 -20)">36</text></g>
<g id="n93" transform="rotate(228.08)"><text class="bs" x="572" y="30" transform="rotate(180 572 20)">93</text></g>
<g id="n38c" transform="rotate(224.38)"><text class="bs" x="538" y="30" transform="rotate(180 538 20)">38</text></g>
<g id="n14" transform="rotate(218.84)"><text class="bs" x="507" y="30" transform="rotate(180 507 20)">14</text></g>
<g id="n37c" transform="rotate(210.51)"><text class="bs" x="476" y="30" transform="rotate(180 476 20)">37</text></g>
<g id="n22" transform="rotate(199.57)"><text class="bs" x="443" y="30" transform="rotate(180 443 20)">22</text></g>
<g id="n27" transform="rotate(175.14)"><text class="bs" x="194" y="-10" transform="rotate(180 194 -20)">27</text></g>
<g id="n83" transform="rotate(205.31)"><text class="bs" x="164" y="-10" transform="rotate(180 164 -20)">83</text></g>
<g id="n92" transform="rotate(242.88)"><text class="bs" x="570" y="30" transform="rotate(180 570 20)">92</text></g>
</g>
</g>
</svg>
